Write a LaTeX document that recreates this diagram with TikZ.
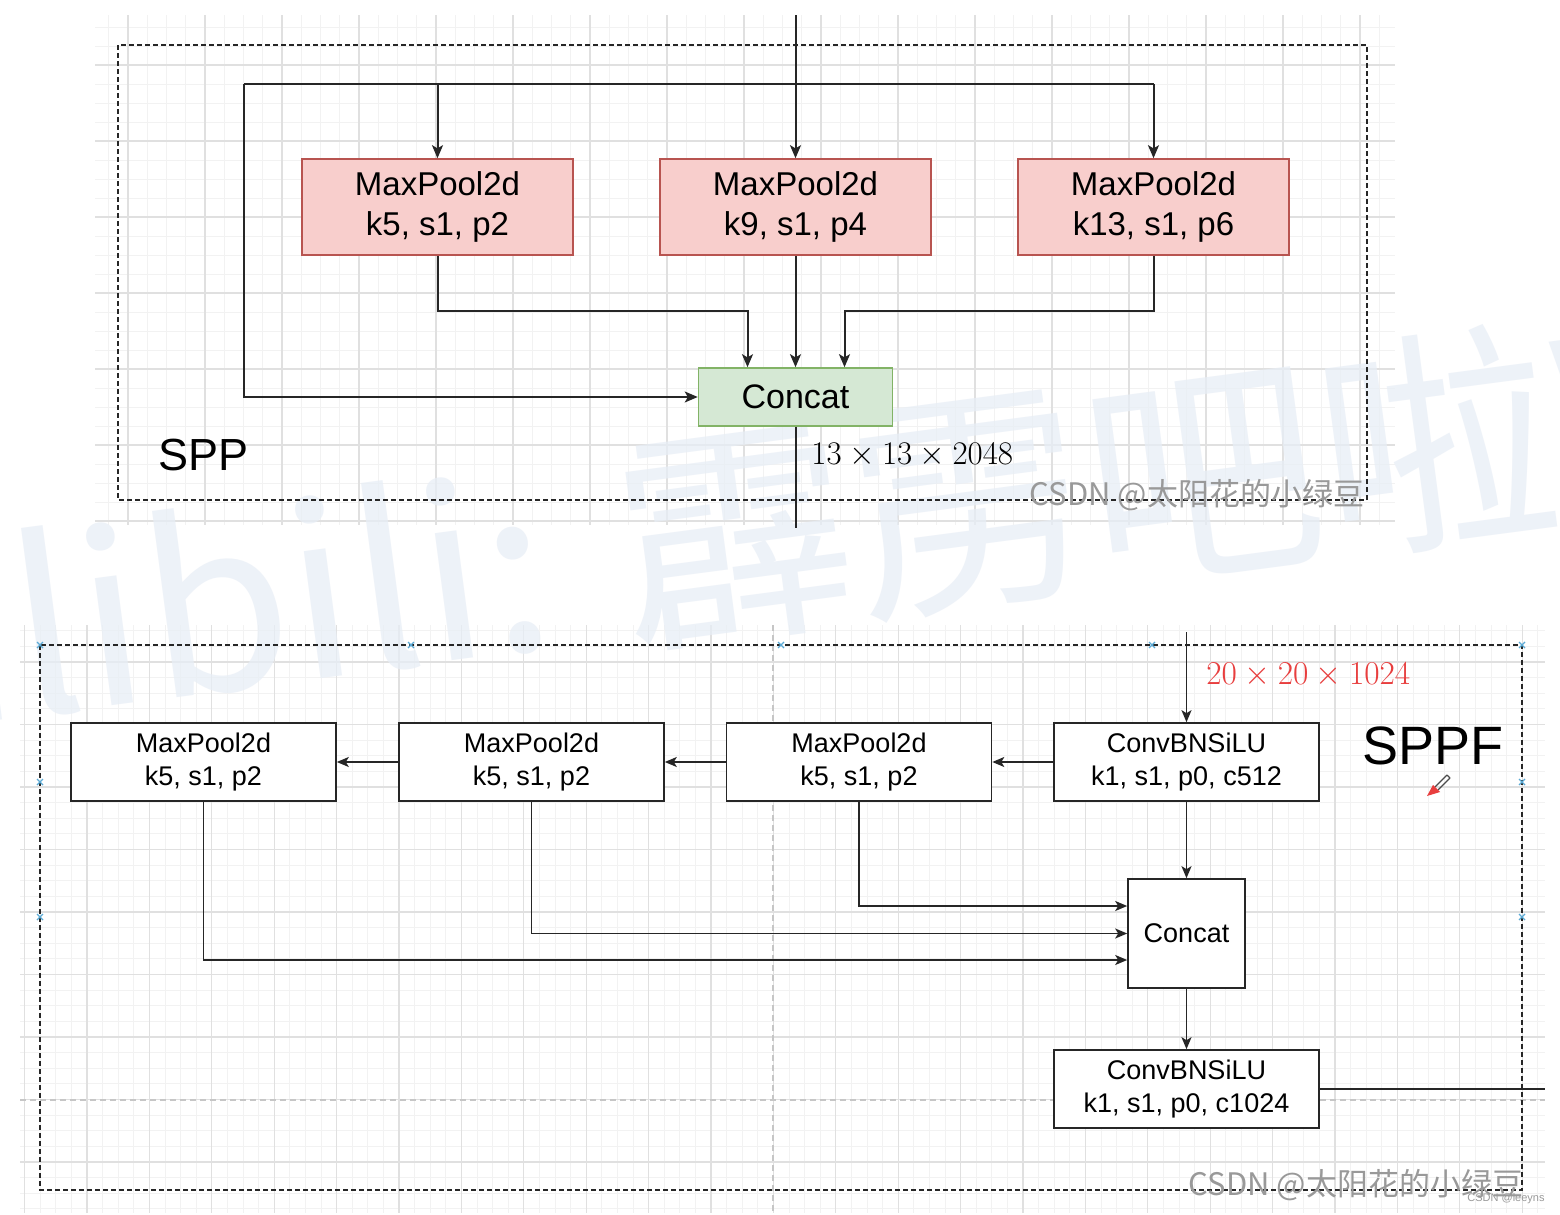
\documentclass[tikz,border=0pt]{standalone}
\usepackage{fontspec}
\setmainfont{Liberation Sans}
\newfontfamily\cjk{Noto Sans CJK SC}
\usetikzlibrary{arrows.meta}
\definecolor{redfill}{RGB}{248,206,204}
\definecolor{redline}{RGB}{184,84,80}
\definecolor{greenfill}{RGB}{213,232,212}
\definecolor{greenline}{RGB}{130,179,102}
\definecolor{dimred}{RGB}{232,62,62}
\definecolor{wmcol}{RGB}{232,238,246}
\definecolor{handle}{RGB}{90,170,214}
\definecolor{gmin}{RGB}{242,242,242}
\definecolor{gmaj}{RGB}{224,224,224}
\tikzset{
  gminor/.style={draw=gmin, line width=0.4pt},
  gmajor/.style={draw=gmaj, line width=0.6pt},
  pbreak/.style={draw=gray!45, line width=0.6pt, dash pattern=on 3pt off 2pt},
  dashbox/.style={draw=black!85, line width=0.8pt, dash pattern=on 2.5pt off 1.5pt},
  redbox/.style={draw=redline, fill=redfill, line width=0.8pt, minimum width=135.5pt, minimum height=48pt,
    inner sep=0pt, align=center, font=\fontsize{16.5}{20}\selectfont},
  greenbox/.style={draw=greenline, fill=greenfill, line width=0.8pt, minimum width=97pt, minimum height=29pt,
    inner sep=0pt, align=center, font=\fontsize{17}{20}\selectfont},
  whitebox/.style={draw=black!85, fill=white, line width=0.8pt, minimum width=132.5pt, minimum height=39pt,
    inner sep=0pt, align=center, font=\fontsize{13.5}{16.5}\selectfont},
  plain/.style={draw=black!85, line width=1pt},
  conn/.style={draw=black!85, line width=1pt, -{Stealth[length=6.5pt,width=5.5pt,inset=1.6pt]}},
  connb/.style={draw=black!85, line width=0.9pt, -{Stealth[length=6pt,width=5pt,inset=1.5pt]}},
  handlemark/.style={draw=handle, line width=0.6pt},
}
\begin{document}
\begin{tikzpicture}[x=0.5pt,y=-0.5pt]
\path[use as bounding box, fill=white] (0,0) rectangle (1560,1215);

% ---------- grids ----------
\begin{scope}
\clip (95,15) rectangle (1395,525);
\foreach \k in {-2,...,66} \draw[gminor] ({128+\k*19.25},15) -- ++(0,510);
\foreach \k in {-3,...,24} \draw[gminor] (95,{65+\k*19}) -- ++(1300,0);
\foreach \k in {0,...,16} \draw[gmajor] ({128+\k*77},15) -- ++(0,510);
\foreach \k in {0,...,6} \draw[gmajor] (95,{65+\k*76}) -- ++(1300,0);
\end{scope}
\begin{scope}
\clip (20,625) rectangle (1545,1212);
\foreach \k in {-5,...,94} \draw[gminor] ({87+\k*15.6},625) -- ++(0,590);
\foreach \k in {-3,...,35} \draw[gminor] (20,{662+\k*15.625}) -- ++(1525,0);
\foreach \k in {-1,...,23} \draw[gmajor] ({87+\k*62.4},625) -- ++(0,590);
\foreach \k in {0,...,8} \draw[gmajor] (20,{662+\k*62.5}) -- ++(1525,0);
\draw[pbreak] (773,625) -- (773,1212);
\draw[pbreak] (20,1100) -- (1545,1100);
\end{scope}

% ---------- big watermark ----------
\begin{scope}
\clip (0,0) rectangle (1560,1215);
\node[rotate=7.5, anchor=base west, inner sep=0pt, text=wmcol, opacity=0.75,
  font=\cjk\fontsize{118}{120}\selectfont] (wm) at (-185,745) {bilibili: 霹雳吧啦Wz};
\end{scope}

% ---------- SPP ----------
\draw[dashbox] (118,45) rectangle (1367,500);

\node[redbox] (p1) at (437.5,207) {MaxPool2d\\k5, s1, p2};
\node[redbox] (p2) at (795.5,207) {MaxPool2d\\k9, s1, p4};
\node[redbox] (p3) at (1153.5,207) {MaxPool2d\\k13, s1, p6};
\node[greenbox] (cat1) at (795.5,397) {Concat};

\coordinate (tin) at (795.5,15);
\coordinate (jl) at (244,84);
\coordinate (jr) at (1153.5,84);
\coordinate (y311) at (0,311);
\coordinate (sppout) at (795.5,528);
\coordinate (c1l) at ([xshift=-24pt]cat1.north);
\coordinate (c1r) at ([xshift=24.5pt]cat1.north);

\draw[conn] (tin) -- (p2.north);
\draw[plain] (jl) -- (jr);
\draw[conn] (p1.north |- jl) -- (p1.north);
\draw[conn] (jr) -- (p3.north);
\draw[conn] (jl) |- (cat1.west);
\draw[conn] (p1.south) |- (y311 -| c1l) -- (c1l);
\draw[conn] (p2.south) -- (cat1.north);
\draw[conn] (p3.south) |- (y311 -| c1r) -- (c1r);
\draw[plain] (cat1.south) -- (sppout);

\node[anchor=west, inner sep=0pt, font=\fontsize{22.5}{24}\selectfont] (spp) at (158,455) {SPP};
\node[anchor=west, inner sep=0pt, font=\fontsize{17.28}{20}\selectfont] (dim1) at (811,455) {\scalebox{0.955}{$13\times 13\times 2048$}};
\node[anchor=center, inner sep=0pt, text=gray!80, font=\cjk\fontsize{15.5}{17}\selectfont] (csdn1) at (1197,495) {CSDN @太阳花的小绿豆};

% ---------- SPPF ----------
\draw[dashbox] (40,645) rectangle (1522,1190);
\foreach \hx/\hy in {40/645, 411/645, 781/645, 1152/645, 1522/645, 40/782, 40/917, 1522/782, 1522/917}
  \draw[handlemark] ({\hx-3},{\hy-3}) -- ({\hx+3},{\hy+3}) ({\hx-3},{\hy+3}) -- ({\hx+3},{\hy-3});

\node[whitebox] (ma) at (203.5,762) {MaxPool2d\\k5, s1, p2};
\node[whitebox] (mb) at (531.5,762) {MaxPool2d\\k5, s1, p2};
\node[whitebox] (mc) at (859,762) {MaxPool2d\\k5, s1, p2};
\node[whitebox] (cv1) at (1186.5,762) {ConvBNSiLU\\k1, s1, p0, c512};
\node[whitebox, minimum width=58.5pt, minimum height=54.5pt] (cat2) at (1186.5,933.5) {Concat};
\node[whitebox] (cv2) at (1186.5,1089) {ConvBNSiLU\\k1, s1, p0, c1024};

\coordinate (bin) at (1186.5,632);
\coordinate (bout) at (1545,1089);

\draw[connb] (bin) -- (cv1.north);
\draw[connb] (cv1.west) -- (mc.east);
\draw[connb] (mc.west) -- (mb.east);
\draw[connb] (mb.west) -- (ma.east);
\draw[connb] (cv1.south) -- (cat2.north);
\draw[connb] (mc.south) |- ([yshift=13.75pt]cat2.west);
\draw[connb] (mb.south) |- (cat2.west);
\draw[connb] (ma.south) |- ([yshift=-13.25pt]cat2.west);
\draw[connb] (cat2.south) -- (cv2.north);
\draw[plain, line width=0.9pt] (cv2.east) -- (bout);

\node[anchor=west, inner sep=0pt, text=dimred, font=\fontsize{17.28}{20}\selectfont] (dim2) at (1206,675) {\scalebox{0.965}{$20\times 20\times 1024$}};
\node[anchor=west, inner sep=0pt, font=\fontsize{27}{30}\selectfont] (sppf) at (1362,746) {SPPF};

% pencil cursor
\draw[black!70, line width=0.6pt] (1447,775) -- (1435,787) (1450,778) -- (1438,790) (1447,775) -- (1450,778);
\fill[dimred] (1433,785) -- (1440,792) -- (1427,796) -- cycle;

\node[anchor=center, inner sep=0pt, text=gray!80, font=\cjk\fontsize{15.5}{17}\selectfont] (csdn2) at (1356,1185) {CSDN @太阳花的小绿豆};
\node[anchor=east, inner sep=0pt, text=gray!80, font=\fontsize{5.5}{6}\selectfont] (csdn3) at (1545,1199) {CSDN @leeyns};
\end{tikzpicture}
\end{document}
